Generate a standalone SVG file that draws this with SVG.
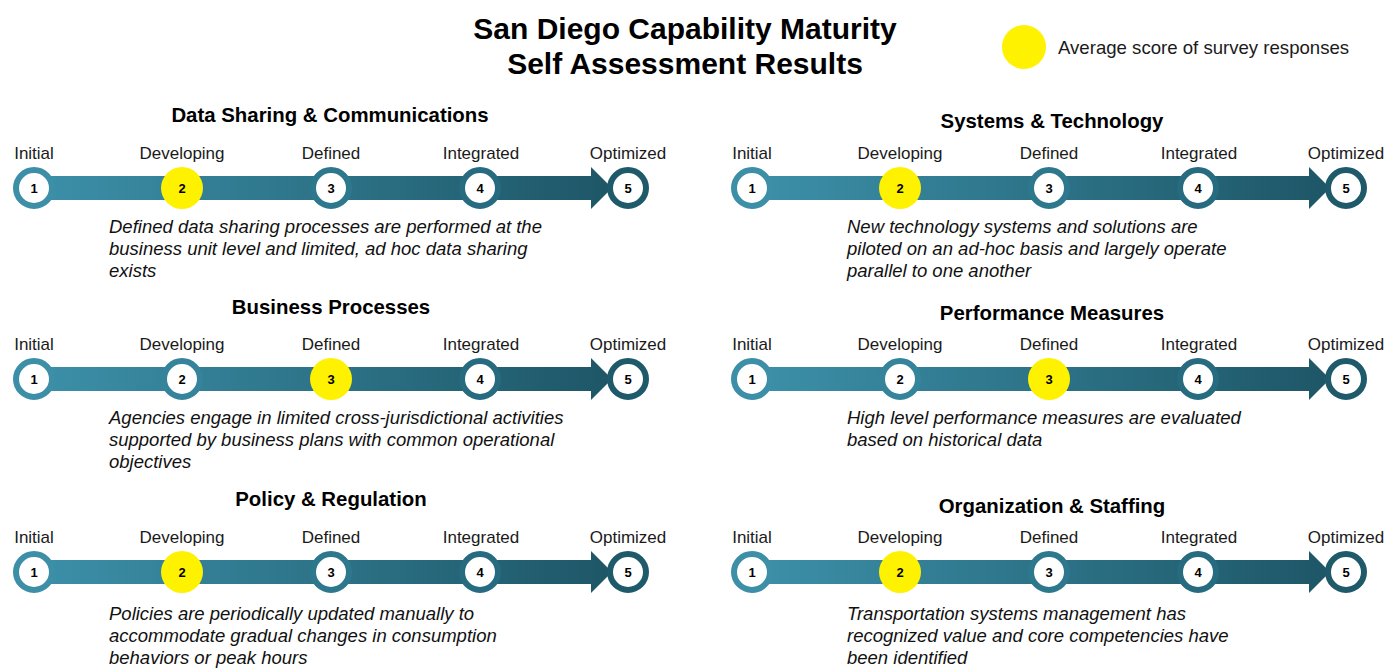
<svg xmlns="http://www.w3.org/2000/svg" xmlns:xlink="http://www.w3.org/1999/xlink" width="1387" height="668" viewBox="0 0 1387 668">
<defs>
<linearGradient id="barGrad" x1="0" y1="0" x2="1" y2="0">
<stop offset="0" stop-color="#3c90a9"/>
<stop offset="1" stop-color="#1e5667"/>
</linearGradient>
<path id="arrow" d="M0,-12 H557 V-21 L578,0 L557,21 V12 H0 Z" fill="url(#barGrad)"/>
<style>
.title{font-family:"Liberation Sans",Arial,sans-serif;font-weight:bold;font-size:30px;fill:#000;text-anchor:middle}
.sect{font-family:"Liberation Sans",Arial,sans-serif;font-weight:bold;font-size:20.4px;fill:#000;text-anchor:middle}
.lbl{font-family:"Liberation Sans",Arial,sans-serif;font-size:17px;fill:#1a1a1a;text-anchor:middle}
.num{font-family:"Liberation Sans",Arial,sans-serif;font-weight:bold;font-size:13px;fill:#000;text-anchor:middle}
.desc{font-family:"Liberation Sans",Arial,sans-serif;font-style:italic;font-size:18.5px;fill:#111}
.leg{font-family:"Liberation Sans",Arial,sans-serif;font-size:18.6px;fill:#1a1a1a}
.ring{fill:#fff;stroke-width:6}
.r1{stroke:#3d8fa8}.r2{stroke:#36849c}.r3{stroke:#2e788e}.r4{stroke:#276b80}.r5{stroke:#1f5a6b}
.yel{fill:#fff200}
</style>
</defs>
<rect width="1387" height="668" fill="#fff"/>

<g id="header">
<text class="title" x="685" y="39">San Diego Capability Maturity</text>
<text class="title" x="685" y="74">Self Assessment Results</text>
</g>
<g id="legend">
<circle class="yel" cx="1024" cy="47" r="22"/>
<text class="leg" x="1058" y="54">Average score of survey responses</text>
</g>

<!-- Left panel -->
<g id="data-sharing">
<text class="sect" x="330" y="122">Data Sharing &amp; Communications</text>
<g transform="translate(0,159)">
<text class="lbl" x="34">Initial</text><text class="lbl" x="182">Developing</text><text class="lbl" x="331">Defined</text><text class="lbl" x="481">Integrated</text><text class="lbl" x="628">Optimized</text>
</g>
<g transform="translate(34,188)">
<use xlink:href="#arrow"/>
<circle class="ring r1" cx="0" cy="0" r="18"/><text class="num" x="0" y="5">1</text>
<circle class="yel" cx="148" cy="0" r="21"/><text class="num" x="148" y="5">2</text>
<circle class="ring r3" cx="297" cy="0" r="18"/><text class="num" x="297" y="5">3</text>
<circle class="ring r4" cx="446" cy="0" r="18"/><text class="num" x="446" y="5">4</text>
<circle class="ring r5" cx="594" cy="0" r="18"/><text class="num" x="594" y="5">5</text>
</g>
<text class="desc" x="109" y="233">Defined data sharing processes are performed at the</text>
<text class="desc" x="109" y="255">business unit level and limited, ad hoc data sharing</text>
<text class="desc" x="109" y="277">exists</text>
</g>

<g id="business-processes">
<text class="sect" x="331" y="314">Business Processes</text>
<g transform="translate(0,350)">
<text class="lbl" x="34">Initial</text><text class="lbl" x="182">Developing</text><text class="lbl" x="331">Defined</text><text class="lbl" x="481">Integrated</text><text class="lbl" x="628">Optimized</text>
</g>
<g transform="translate(34,379)">
<use xlink:href="#arrow"/>
<circle class="ring r1" cx="0" cy="0" r="18"/><text class="num" x="0" y="5">1</text>
<circle class="ring r2" cx="148" cy="0" r="18"/><text class="num" x="148" y="5">2</text>
<circle class="yel" cx="297" cy="0" r="21"/><text class="num" x="297" y="5">3</text>
<circle class="ring r4" cx="446" cy="0" r="18"/><text class="num" x="446" y="5">4</text>
<circle class="ring r5" cx="594" cy="0" r="18"/><text class="num" x="594" y="5">5</text>
</g>
<text class="desc" x="109" y="424">Agencies engage in limited cross-jurisdictional activities</text>
<text class="desc" x="109" y="446">supported by business plans with common operational</text>
<text class="desc" x="109" y="468">objectives</text>
</g>

<g id="policy-regulation">
<text class="sect" x="331" y="506">Policy &amp; Regulation</text>
<g transform="translate(0,543)">
<text class="lbl" x="34">Initial</text><text class="lbl" x="182">Developing</text><text class="lbl" x="331">Defined</text><text class="lbl" x="481">Integrated</text><text class="lbl" x="628">Optimized</text>
</g>
<g transform="translate(34,572)">
<use xlink:href="#arrow"/>
<circle class="ring r1" cx="0" cy="0" r="18"/><text class="num" x="0" y="5">1</text>
<circle class="yel" cx="148" cy="0" r="21"/><text class="num" x="148" y="5">2</text>
<circle class="ring r3" cx="297" cy="0" r="18"/><text class="num" x="297" y="5">3</text>
<circle class="ring r4" cx="446" cy="0" r="18"/><text class="num" x="446" y="5">4</text>
<circle class="ring r5" cx="594" cy="0" r="18"/><text class="num" x="594" y="5">5</text>
</g>
<text class="desc" x="109" y="620">Policies are periodically updated manually to</text>
<text class="desc" x="109" y="642">accommodate gradual changes in consumption</text>
<text class="desc" x="109" y="664">behaviors or peak hours</text>
</g>

<!-- Right panel -->
<g id="systems-technology">
<text class="sect" x="1052" y="128">Systems &amp; Technology</text>
<g transform="translate(718,159)">
<text class="lbl" x="34">Initial</text><text class="lbl" x="182">Developing</text><text class="lbl" x="331">Defined</text><text class="lbl" x="481">Integrated</text><text class="lbl" x="628">Optimized</text>
</g>
<g transform="translate(752,188)">
<use xlink:href="#arrow"/>
<circle class="ring r1" cx="0" cy="0" r="18"/><text class="num" x="0" y="5">1</text>
<circle class="yel" cx="148" cy="0" r="21"/><text class="num" x="148" y="5">2</text>
<circle class="ring r3" cx="297" cy="0" r="18"/><text class="num" x="297" y="5">3</text>
<circle class="ring r4" cx="446" cy="0" r="18"/><text class="num" x="446" y="5">4</text>
<circle class="ring r5" cx="594" cy="0" r="18"/><text class="num" x="594" y="5">5</text>
</g>
<text class="desc" x="847" y="233">New technology systems and solutions are</text>
<text class="desc" x="847" y="255">piloted on an ad-hoc basis and largely operate</text>
<text class="desc" x="847" y="277">parallel to one another</text>
</g>

<g id="performance-measures">
<text class="sect" x="1052" y="320">Performance Measures</text>
<g transform="translate(718,350)">
<text class="lbl" x="34">Initial</text><text class="lbl" x="182">Developing</text><text class="lbl" x="331">Defined</text><text class="lbl" x="481">Integrated</text><text class="lbl" x="628">Optimized</text>
</g>
<g transform="translate(752,379)">
<use xlink:href="#arrow"/>
<circle class="ring r1" cx="0" cy="0" r="18"/><text class="num" x="0" y="5">1</text>
<circle class="ring r2" cx="148" cy="0" r="18"/><text class="num" x="148" y="5">2</text>
<circle class="yel" cx="297" cy="0" r="21"/><text class="num" x="297" y="5">3</text>
<circle class="ring r4" cx="446" cy="0" r="18"/><text class="num" x="446" y="5">4</text>
<circle class="ring r5" cx="594" cy="0" r="18"/><text class="num" x="594" y="5">5</text>
</g>
<text class="desc" x="847" y="424">High level performance measures are evaluated</text>
<text class="desc" x="847" y="446">based on historical data</text>
</g>

<g id="organization-staffing">
<text class="sect" x="1052" y="513">Organization &amp; Staffing</text>
<g transform="translate(718,543)">
<text class="lbl" x="34">Initial</text><text class="lbl" x="182">Developing</text><text class="lbl" x="331">Defined</text><text class="lbl" x="481">Integrated</text><text class="lbl" x="628">Optimized</text>
</g>
<g transform="translate(752,572)">
<use xlink:href="#arrow"/>
<circle class="ring r1" cx="0" cy="0" r="18"/><text class="num" x="0" y="5">1</text>
<circle class="yel" cx="148" cy="0" r="21"/><text class="num" x="148" y="5">2</text>
<circle class="ring r3" cx="297" cy="0" r="18"/><text class="num" x="297" y="5">3</text>
<circle class="ring r4" cx="446" cy="0" r="18"/><text class="num" x="446" y="5">4</text>
<circle class="ring r5" cx="594" cy="0" r="18"/><text class="num" x="594" y="5">5</text>
</g>
<text class="desc" x="847" y="620">Transportation systems management has</text>
<text class="desc" x="847" y="642">recognized value and core competencies have</text>
<text class="desc" x="847" y="664">been identified</text>
</g>
</svg>
